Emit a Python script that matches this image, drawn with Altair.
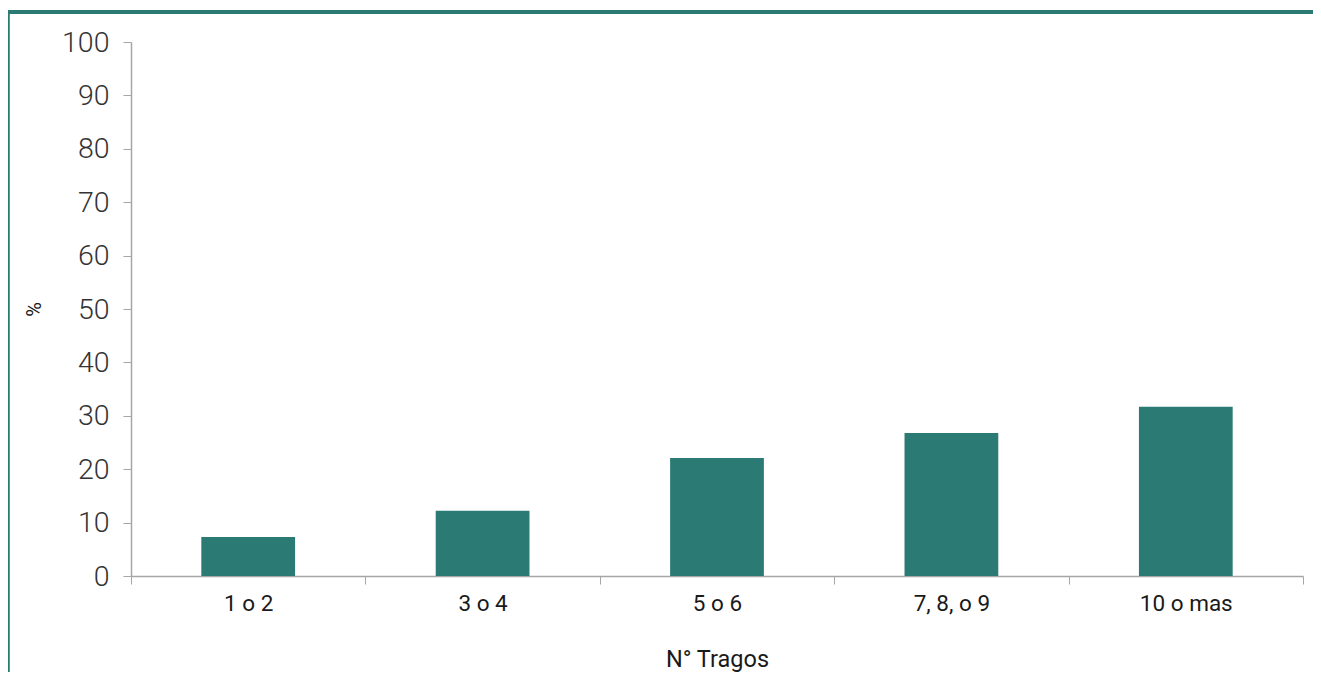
import altair as alt
import pandas as pd

categories = ["1 o 2", "3 o 4", "5 o 6", "7, 8, o 9", "10 o mas"]
values = [7.3, 12.2, 22.1, 26.8, 31.7]
y_ticks = [0, 10, 20, 30, 40, 50, 60, 70, 80, 90, 100]

TEAL = "#2b7a73"
GRAY = "#a6a6a6"

df = pd.DataFrame({"cat": categories, "val": values})

bars = alt.Chart(df).mark_bar(color=TEAL, width=alt.RelativeBandSize(0.4)).encode(
    x=alt.X(
        "cat:N",
        sort=categories,
        scale=alt.Scale(paddingInner=0, paddingOuter=0),
        axis=alt.Axis(
            title="N° Tragos",
            labelAngle=0,
            labelFont="Roboto",
            labelFontSize=22.5,
            labelColor="#1a1a1a",
            labelPadding=8,
            tickBand="extent",
            tickSize=8,
            tickColor=GRAY,
            domainColor=GRAY,
            domainWidth=1.5,
            titleFont="Roboto",
            titleFontSize=23.5,
            titleFontWeight="normal",
            titleColor="#1a1a1a",
            titlePadding=33,
        ),
    ),
    y=alt.Y(
        "val:Q",
        scale=alt.Scale(domain=[0, 100], nice=False),
        axis=alt.Axis(
            title="%",
            values=y_ticks,
            grid=False,
            labelFont="Roboto",
            labelFontWeight=300,
            labelFontSize=28.5,
            labelColor="#333333",
            labelPadding=14,
            tickSize=8,
            tickColor=GRAY,
            domainColor=GRAY,
            domainWidth=1.5,
            titleFont="Roboto",
            titleFontSize=20,
            titleFontWeight="normal",
            titleColor="#1a1a1a",
            titlePadding=17,
        ),
    ),
)

border_left = alt.Chart(df).mark_rule(color=TEAL, strokeWidth=3.5).encode(
    x=alt.value(-123.5), y=alt.value(-31.5), y2=alt.value(640)
)
border_top = alt.Chart(df).mark_rule(color=TEAL, strokeWidth=3.5).encode(
    x=alt.value(-125), x2=alt.value(1190), y=alt.value(-30)
)

chart = alt.layer(bars, border_left, border_top).properties(
    width=1172,
    height=534,
    autosize=alt.AutoSizeParams(type="none"),
    padding={"left": 123, "top": 34, "right": 10, "bottom": 96},
).configure_view(stroke=None)

chart.save("out.html", embed_options={"renderer": "svg", "actions": False})
